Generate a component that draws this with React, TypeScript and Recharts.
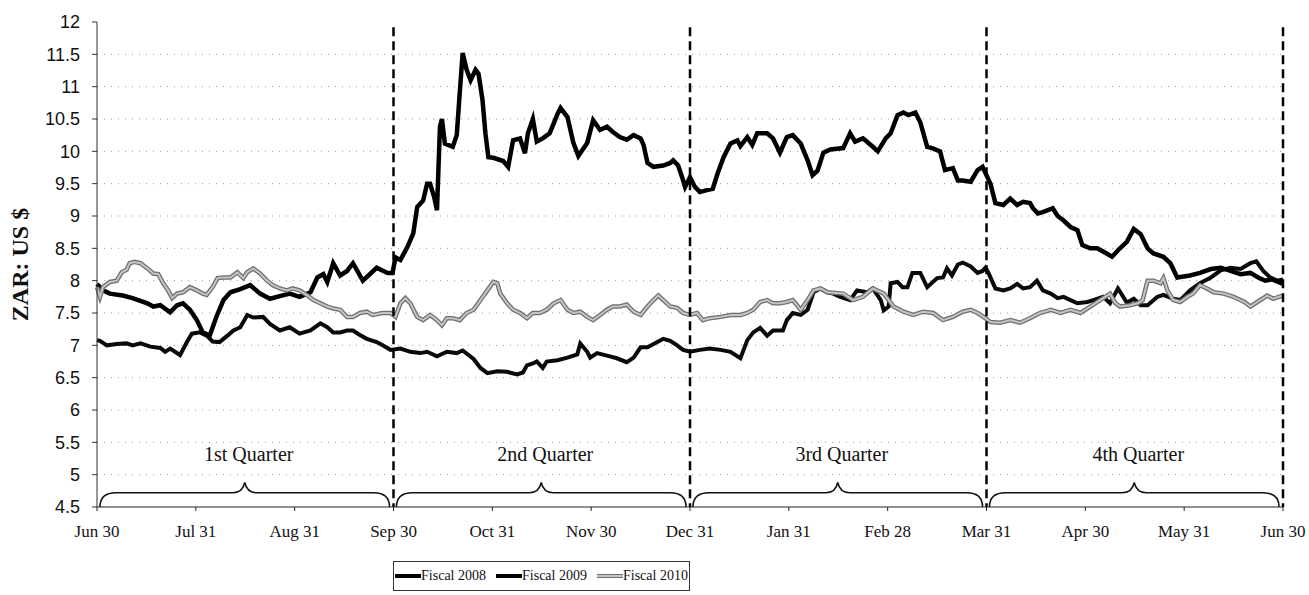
import { LineChart, Line, XAxis, YAxis, CartesianGrid, ReferenceLine, ReferenceArea } from 'recharts';

// x positions are in months after Jun 30 (0 = Jun 30, 12 = next Jun 30)
const monthLabels = ['Jun 30', 'Jul 31', 'Aug 31', 'Sep 30', 'Oct 31', 'Nov 30', 'Dec 31', 'Jan 31', 'Feb 28', 'Mar 31', 'Apr 30', 'May 31', 'Jun 30'];
const monthTicks = [0, 1, 2, 3, 4, 5, 6, 7, 8, 9, 10, 11, 12];
const rateTicks = [4.5, 5, 5.5, 6, 6.5, 7, 7.5, 8, 8.5, 9, 9.5, 10, 10.5, 11, 11.5, 12];
const gridValues = [5, 5.5, 6, 6.5, 7, 7.5, 8, 8.5, 9, 9.5, 10, 10.5, 11, 11.5];
const quarterNames = ['1st Quarter', '2nd Quarter', '3rd Quarter', '4th Quarter'];
const quarterEnds = [3, 6, 9, 12];

const fy2008Month = [0.00, 0.03, 0.10, 0.20, 0.30, 0.36, 0.44, 0.54, 0.64, 0.69, 0.74, 0.84, 0.91, 0.96, 1.04, 1.11, 1.17, 1.24, 1.32, 1.38, 1.45, 1.52, 1.58, 1.68, 1.75, 1.85, 1.95, 2.05, 2.16, 2.26, 2.33, 2.39, 2.46, 2.53, 2.59, 2.66, 2.73, 2.83, 2.89, 2.97, 3.07, 3.17, 3.27, 3.34, 3.44, 3.54, 3.64, 3.70, 3.81, 3.88, 3.95, 4.05, 4.15, 4.25, 4.31, 4.35, 4.41, 4.45, 4.51, 4.55, 4.66, 4.76, 4.86, 4.89, 4.96, 4.99, 5.06, 5.16, 5.26, 5.36, 5.43, 5.50, 5.57, 5.67, 5.73, 5.80, 5.87, 5.93, 6.00, 6.10, 6.20, 6.31, 6.41, 6.51, 6.58, 6.64, 6.71, 6.78, 6.84, 6.94, 6.98, 7.04, 7.12, 7.19, 7.25, 7.32, 7.39, 7.45, 7.52, 7.62, 7.69, 7.79, 7.85, 7.93, 7.96, 8.01, 8.03, 8.10, 8.15, 8.20, 8.25, 8.33, 8.40, 8.50, 8.56, 8.60, 8.65, 8.71, 8.76, 8.84, 8.91, 8.96, 8.99, 9.02, 9.09, 9.17, 9.24, 9.31, 9.37, 9.44, 9.51, 9.57, 9.65, 9.72, 9.78, 9.85, 9.92, 10.02, 10.08, 10.18, 10.25, 10.33, 10.42, 10.49, 10.56, 10.63, 10.73, 10.79, 10.89, 10.96, 11.06, 11.16, 11.27, 11.37, 11.47, 11.57, 11.67, 11.73, 11.80, 11.87, 11.94, 12.00];
const fy2008Rate = [7.08, 7.07, 7.00, 7.02, 7.03, 7.00, 7.03, 6.98, 6.96, 6.90, 6.95, 6.85, 7.05, 7.18, 7.20, 7.15, 7.06, 7.05, 7.15, 7.23, 7.28, 7.47, 7.43, 7.44, 7.33, 7.23, 7.28, 7.18, 7.23, 7.34, 7.28, 7.20, 7.20, 7.23, 7.23, 7.16, 7.10, 7.05, 7.00, 6.93, 6.95, 6.90, 6.88, 6.90, 6.83, 6.90, 6.88, 6.92, 6.79, 6.65, 6.57, 6.60, 6.59, 6.55, 6.58, 6.69, 6.72, 6.75, 6.65, 6.75, 6.77, 6.81, 6.86, 7.03, 6.90, 6.81, 6.88, 6.84, 6.80, 6.74, 6.81, 6.97, 6.97, 7.05, 7.10, 7.07, 7.00, 6.93, 6.90, 6.93, 6.95, 6.93, 6.90, 6.80, 7.08, 7.20, 7.27, 7.15, 7.23, 7.23, 7.39, 7.50, 7.47, 7.55, 7.82, 7.88, 7.82, 7.80, 7.75, 7.70, 7.85, 7.82, 7.88, 7.70, 7.54, 7.60, 7.96, 7.98, 7.90, 7.90, 8.12, 8.12, 7.90, 8.04, 8.05, 8.19, 8.08, 8.25, 8.28, 8.22, 8.12, 8.15, 8.20, 8.12, 7.88, 7.85, 7.88, 7.95, 7.88, 7.90, 8.00, 7.85, 7.80, 7.73, 7.75, 7.70, 7.65, 7.67, 7.70, 7.75, 7.65, 7.88, 7.66, 7.72, 7.62, 7.62, 7.75, 7.78, 7.72, 7.70, 7.85, 7.96, 8.05, 8.16, 8.20, 8.18, 8.27, 8.30, 8.15, 8.05, 8.00, 8.02];

const fy2009Month = [0.00, 0.06, 0.13, 0.26, 0.36, 0.51, 0.57, 0.64, 0.74, 0.81, 0.87, 0.94, 1.01, 1.07, 1.14, 1.21, 1.28, 1.35, 1.45, 1.55, 1.65, 1.75, 1.85, 1.95, 2.05, 2.16, 2.23, 2.29, 2.33, 2.39, 2.46, 2.53, 2.59, 2.69, 2.83, 2.94, 2.99, 3.02, 3.07, 3.14, 3.20, 3.24, 3.30, 3.34, 3.37, 3.41, 3.44, 3.47, 3.49, 3.52, 3.60, 3.64, 3.67, 3.70, 3.74, 3.78, 3.83, 3.86, 3.90, 3.93, 3.96, 4.01, 4.11, 4.16, 4.21, 4.28, 4.33, 4.36, 4.41, 4.45, 4.51, 4.58, 4.66, 4.69, 4.76, 4.82, 4.87, 4.96, 5.02, 5.09, 5.16, 5.22, 5.29, 5.36, 5.43, 5.50, 5.53, 5.57, 5.63, 5.73, 5.80, 5.83, 5.88, 5.92, 5.95, 6.00, 6.05, 6.10, 6.17, 6.23, 6.28, 6.34, 6.41, 6.48, 6.51, 6.58, 6.63, 6.68, 6.78, 6.84, 6.91, 6.98, 7.04, 7.12, 7.19, 7.24, 7.29, 7.35, 7.42, 7.55, 7.62, 7.67, 7.75, 7.85, 7.90, 7.98, 8.03, 8.10, 8.16, 8.21, 8.28, 8.33, 8.40, 8.45, 8.53, 8.58, 8.66, 8.71, 8.76, 8.84, 8.91, 8.96, 9.04, 9.09, 9.17, 9.24, 9.31, 9.37, 9.44, 9.47, 9.52, 9.57, 9.67, 9.72, 9.78, 9.85, 9.92, 9.97, 10.05, 10.12, 10.18, 10.27, 10.35, 10.42, 10.49, 10.56, 10.63, 10.69, 10.79, 10.86, 10.93, 11.06, 11.16, 11.27, 11.37, 11.47, 11.57, 11.67, 11.75, 11.82, 11.89, 12.00];
const fy2009Rate = [7.95, 7.85, 7.80, 7.77, 7.73, 7.65, 7.60, 7.62, 7.51, 7.62, 7.65, 7.55, 7.39, 7.20, 7.15, 7.45, 7.70, 7.82, 7.87, 7.93, 7.80, 7.72, 7.76, 7.80, 7.75, 7.82, 8.05, 8.10, 7.98, 8.27, 8.08, 8.15, 8.27, 8.00, 8.20, 8.12, 8.12, 8.36, 8.32, 8.52, 8.73, 9.14, 9.24, 9.50, 9.50, 9.30, 9.09, 10.38, 10.50, 10.12, 10.07, 10.25, 10.90, 11.52, 11.26, 11.10, 11.26, 11.20, 10.80, 10.28, 9.91, 9.90, 9.85, 9.76, 10.17, 10.20, 9.97, 10.28, 10.50, 10.15, 10.20, 10.28, 10.58, 10.67, 10.53, 10.13, 9.93, 10.13, 10.48, 10.33, 10.38, 10.30, 10.22, 10.18, 10.25, 10.20, 10.10, 9.82, 9.76, 9.78, 9.82, 9.86, 9.78, 9.60, 9.45, 9.60, 9.45, 9.37, 9.40, 9.42, 9.66, 9.91, 10.12, 10.17, 10.08, 10.22, 10.10, 10.28, 10.28, 10.20, 9.98, 10.22, 10.25, 10.12, 9.86, 9.63, 9.70, 9.98, 10.03, 10.05, 10.28, 10.15, 10.20, 10.07, 10.00, 10.20, 10.28, 10.56, 10.60, 10.56, 10.60, 10.45, 10.07, 10.05, 10.00, 9.71, 9.74, 9.55, 9.55, 9.53, 9.71, 9.76, 9.50, 9.20, 9.17, 9.27, 9.17, 9.22, 9.20, 9.12, 9.04, 9.06, 9.12, 9.00, 8.93, 8.83, 8.78, 8.55, 8.50, 8.50, 8.45, 8.37, 8.50, 8.60, 8.80, 8.72, 8.50, 8.42, 8.37, 8.27, 8.05, 8.08, 8.12, 8.18, 8.20, 8.15, 8.10, 8.12, 8.05, 8.00, 8.02, 7.95];

const fy2010Month = [0.00, 0.03, 0.06, 0.13, 0.20, 0.25, 0.30, 0.33, 0.38, 0.44, 0.51, 0.57, 0.62, 0.67, 0.72, 0.76, 0.81, 0.87, 0.94, 1.01, 1.07, 1.11, 1.17, 1.22, 1.28, 1.35, 1.42, 1.48, 1.52, 1.58, 1.65, 1.72, 1.78, 1.85, 1.92, 1.98, 2.05, 2.13, 2.19, 2.26, 2.33, 2.39, 2.46, 2.53, 2.59, 2.66, 2.73, 2.79, 2.89, 2.97, 3.02, 3.07, 3.12, 3.17, 3.24, 3.30, 3.37, 3.44, 3.49, 3.54, 3.60, 3.67, 3.74, 3.81, 3.88, 3.95, 4.01, 4.05, 4.08, 4.15, 4.21, 4.28, 4.35, 4.41, 4.48, 4.55, 4.62, 4.69, 4.76, 4.82, 4.89, 4.96, 5.02, 5.09, 5.16, 5.22, 5.29, 5.36, 5.43, 5.50, 5.57, 5.63, 5.68, 5.73, 5.80, 5.87, 5.93, 6.00, 6.07, 6.13, 6.20, 6.31, 6.41, 6.51, 6.58, 6.64, 6.71, 6.78, 6.84, 6.91, 6.98, 7.04, 7.12, 7.19, 7.25, 7.32, 7.39, 7.55, 7.65, 7.75, 7.85, 7.96, 8.06, 8.16, 8.26, 8.36, 8.46, 8.56, 8.66, 8.76, 8.84, 8.91, 8.97, 9.04, 9.14, 9.24, 9.34, 9.44, 9.54, 9.65, 9.75, 9.85, 9.95, 10.05, 10.15, 10.25, 10.30, 10.35, 10.45, 10.53, 10.58, 10.63, 10.69, 10.76, 10.79, 10.83, 10.89, 10.96, 11.03, 11.09, 11.16, 11.23, 11.30, 11.40, 11.50, 11.61, 11.67, 11.74, 11.84, 11.90, 12.00];
const fy2010Rate = [7.90, 7.75, 7.90, 7.98, 8.00, 8.13, 8.17, 8.27, 8.29, 8.27, 8.19, 8.11, 8.10, 7.96, 7.85, 7.73, 7.80, 7.82, 7.90, 7.85, 7.80, 7.78, 7.90, 8.04, 8.05, 8.05, 8.13, 8.04, 8.13, 8.19, 8.11, 8.00, 7.93, 7.88, 7.85, 7.88, 7.85, 7.77, 7.70, 7.65, 7.60, 7.57, 7.55, 7.44, 7.44, 7.50, 7.52, 7.47, 7.50, 7.50, 7.44, 7.65, 7.73, 7.65, 7.44, 7.39, 7.47, 7.39, 7.31, 7.42, 7.42, 7.39, 7.50, 7.55, 7.70, 7.85, 7.98, 7.96, 7.80, 7.65, 7.55, 7.50, 7.42, 7.50, 7.50, 7.55, 7.65, 7.70, 7.55, 7.50, 7.52, 7.44, 7.39, 7.47, 7.55, 7.60, 7.60, 7.63, 7.52, 7.47, 7.60, 7.70, 7.77, 7.70, 7.60, 7.58, 7.50, 7.47, 7.50, 7.39, 7.42, 7.44, 7.47, 7.47, 7.50, 7.55, 7.67, 7.70, 7.65, 7.65, 7.67, 7.70, 7.55, 7.70, 7.85, 7.88, 7.82, 7.80, 7.70, 7.75, 7.88, 7.80, 7.60, 7.52, 7.47, 7.52, 7.50, 7.39, 7.44, 7.52, 7.55, 7.50, 7.44, 7.36, 7.35, 7.39, 7.35, 7.42, 7.50, 7.55, 7.50, 7.55, 7.50, 7.60, 7.70, 7.80, 7.66, 7.60, 7.62, 7.65, 7.70, 8.00, 8.00, 7.96, 8.04, 7.85, 7.70, 7.67, 7.75, 7.80, 7.93, 7.88, 7.82, 7.80, 7.75, 7.67, 7.60, 7.67, 7.77, 7.72, 7.77];

const toPoints = (months: number[], rates: number[]) => months.map((m, i) => ({ m, v: rates[i] }));
const fy2008 = toPoints(fy2008Month, fy2008Rate);
const fy2009 = toPoints(fy2009Month, fy2009Rate);
const fy2010 = toPoints(fy2010Month, fy2010Rate);

const SERIF = '"Times New Roman", "Liberation Serif", serif';
const SANS = 'Arial, "Liberation Sans", sans-serif';

// curly brace drawn inside the reference area box, quarter name above it
const Brace = (props: any) => {
  const { x, y, width, height, name } = props;
  const x0 = x + 1;
  const x1 = x + width - 1;
  const xm = x + width / 2;
  const yb = y + height;
  const yf = y + height * 0.42;
  const d = `M${x0},${yb} Q${x0},${yf} ${x0 + 16},${yf} L${xm - 12},${yf} Q${xm - 2},${yf} ${xm},${y} Q${xm + 2},${yf} ${xm + 12},${yf} L${x1 - 16},${yf} Q${x1},${yf} ${x1},${yb}`;
  return (
    <g>
      <path d={d} fill="none" stroke="#111" strokeWidth={1.6} />
      <text x={xm + 4} y={y - 21} textAnchor="middle" fontFamily={SERIF} fontSize={20} fill="#111">{name}</text>
    </g>
  );
};

const YLabel = (props: any) => {
  const { viewBox } = props;
  const cx = viewBox.x + 20;
  const cy = viewBox.y + viewBox.height / 2;
  return (
    <text x={cx} y={cy} transform={`rotate(-90 ${cx} ${cy})`} textAnchor="middle" dominantBaseline="central"
      fontFamily={SERIF} fontWeight="bold" fontSize={24} fill="#111">ZAR: US $</text>
  );
};

const legendItems = [
  { name: 'Fiscal 2008', kind: 'black' },
  { name: 'Fiscal 2009', kind: 'black' },
  { name: 'Fiscal 2010', kind: 'gray' },
];

export default function App() {
  return (
    <div style={{ position: 'absolute', left: 0, top: 0, width: 1309, height: 595, background: '#fff' }}>
      <LineChart width={1309} height={595} data={fy2008} margin={{ top: 22, right: 26, bottom: 0, left: 0 }}>
        <CartesianGrid vertical={false} horizontalValues={gridValues} stroke="#9a9a9a" strokeDasharray="1 6" />
        <XAxis type="number" dataKey="m" domain={[0, 12]} ticks={monthTicks} allowDecimals={false}
          tickFormatter={(t: number) => monthLabels[t]} height={88} interval={0}
          axisLine={{ stroke: '#222' }} tickLine={{ stroke: '#222' }} tickSize={4} tickMargin={14}
          tick={{ fill: '#111', fontSize: 17, fontFamily: SERIF }} />
        <YAxis type="number" domain={[4.5, 12]} ticks={rateTicks} width={97} interval={0}
          axisLine={{ stroke: '#333' }} tickLine={{ stroke: '#333' }} tickSize={5} tickMargin={12}
          tick={{ fill: '#111', fontSize: 18, fontFamily: SANS }} label={<YLabel />} />
        {quarterEnds.map((q, i) => (
          <ReferenceArea key={'b' + q} x1={q - 3 + 0.02} x2={q - 0.03} y1={4.5} y2={4.88}
            shape={(p: any) => <Brace {...p} name={quarterNames[i]} />} />
        ))}
        <Line data={fy2008} dataKey="v" name="Fiscal 2008" type="linear" stroke="#0a0a0a" strokeWidth={4} dot={false} isAnimationActive={false} />
        <Line data={fy2009} dataKey="v" name="Fiscal 2009" type="linear" stroke="#000" strokeWidth={4.5} dot={false} isAnimationActive={false} />
        <Line data={fy2010} dataKey="v" name="Fiscal 2010" type="linear" stroke="#6f6f6f" strokeWidth={4.5} dot={false} isAnimationActive={false} />
        <Line data={fy2010} dataKey="v" name="Fiscal 2010 fill" type="linear" stroke="#c4c4c4" strokeWidth={2} dot={false} isAnimationActive={false} legendType="none" />
        {quarterEnds.map((q) => (
          <ReferenceLine key={'q' + q} segment={[{ x: q, y: 11.92 }, { x: q, y: 4.5 }]} stroke="#000" strokeWidth={2.5} strokeDasharray="9 5" />
        ))}
      </LineChart>
      <div style={{ position: 'absolute', left: 393, top: 561, width: 297, height: 30, border: '1px solid #333', boxSizing: 'border-box',
        display: 'flex', alignItems: 'center', justifyContent: 'center', gap: 10, fontFamily: SERIF, fontSize: 14, color: '#111', whiteSpace: 'nowrap' }}>
        {legendItems.map((it) => (
          <div key={it.name} style={{ display: 'flex', alignItems: 'center' }}>
            <svg width={26} height={10}>
              {it.kind === 'black' ? (
                <line x1={0} y1={5} x2={26} y2={5} stroke="#000" strokeWidth={4} />
              ) : (
                <g>
                  <line x1={0} y1={5} x2={26} y2={5} stroke="#6f6f6f" strokeWidth={4} />
                  <line x1={0} y1={5} x2={26} y2={5} stroke="#c4c4c4" strokeWidth={2} />
                </g>
              )}
            </svg>
            <span>{it.name}</span>
          </div>
        ))}
      </div>
    </div>
  );
}
